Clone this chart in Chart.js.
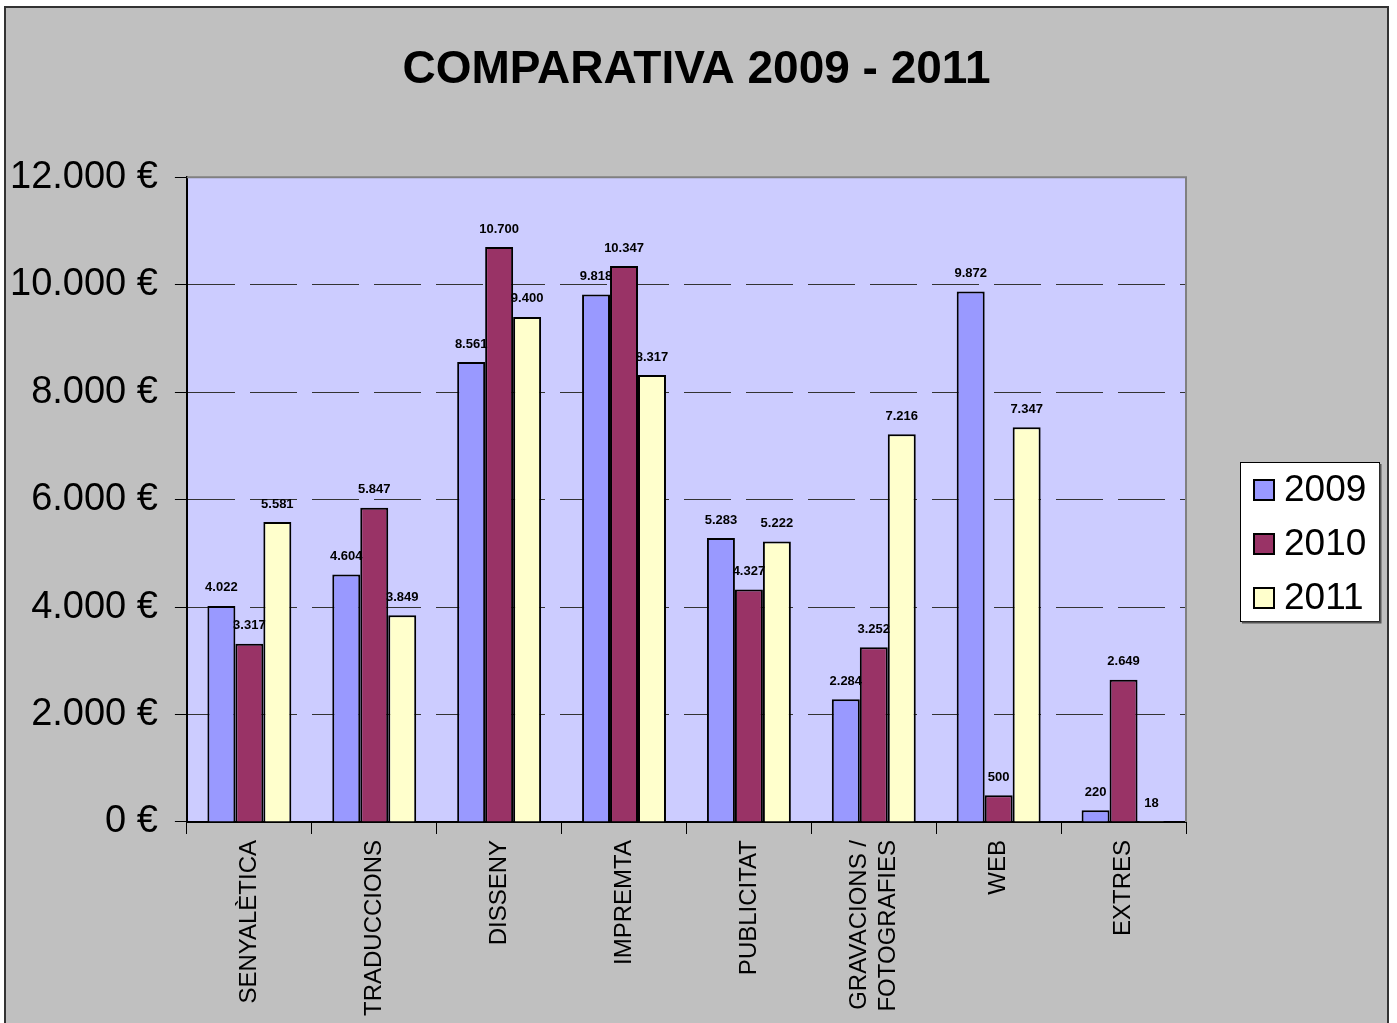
<!DOCTYPE html>
<html><head><meta charset="utf-8">
<script src="https://cdn.jsdelivr.net/npm/chart.js@4.4.1/dist/chart.umd.min.js"></script>
<style>html,body{margin:0;padding:0;background:#fff;overflow:hidden}canvas{display:block}</style>
</head><body>
<canvas id="c" width="1397" height="1023"></canvas>
<script>
const categories = ['SENYALÈTICA', 'TRADUCCIONS', 'DISSENY', 'IMPREMTA', 'PUBLICITAT', ['GRAVACIONS /', 'FOTOGRAFIES'], 'WEB', 'EXTRES'];
const seriesNames = ['2009', '2010', '2011'];
const values2009 = [4022, 4604, 8561, 9818, 5283, 2284, 9872, 220];
const values2010 = [3317, 5847, 10700, 10347, 4327, 3252, 500, 2649];
const values2011 = [5581, 3849, 9400, 8317, 5222, 7216, 7347, 18];
const yMin = 0, yMax = 12000, yStep = 2000;
const titleText = 'COMPARATIVA 2009 - 2011';

const colors = ['#9999ff', '#993366', '#ffffcc'];
const FONT = "'Liberation Sans', Arial, Helvetica, sans-serif";
Chart.defaults.font.family = FONT;
Chart.defaults.color = '#000';

function fmt(v) { return String(v).replace(/\B(?=(\d{3})+(?!\d))/g, '.'); }

const bgPlugin = {
  id: 'bg',
  afterLayout(chart) {
    // centre the title on the whole picture rather than on the padded area
    const t = chart.titleBlock;
    if (t) {
      const shift = chart.width / 2 - 2 - (t.left + t.right) / 2;
      t.left += shift; t.right += shift;
    }
  },
  beforeDraw(chart) {
    const ctx = chart.ctx, a = chart.chartArea;
    ctx.save();
    ctx.fillStyle = '#ffffff';
    ctx.fillRect(0, 0, chart.width, chart.height);
    ctx.fillStyle = '#c0c0c0';
    ctx.fillRect(5, 7, 1383, chart.height - 7);
    ctx.strokeStyle = '#333';
    ctx.lineWidth = 2;
    ctx.beginPath();
    ctx.moveTo(5, chart.height); ctx.lineTo(5, 7); ctx.lineTo(1388, 7); ctx.lineTo(1388, chart.height);
    ctx.stroke();
    ctx.fillStyle = '#ccccff';
    ctx.fillRect(a.left, a.top, a.right - a.left, a.bottom - a.top);
    ctx.restore();
    // centre multi-line category labels on their tick
    const xs = chart.scales.x;
    const items = xs.getLabelItems ? xs.getLabelItems() : [];
    items.forEach(it => {
      if (Array.isArray(it.label) && it.label.length > 1 && !it._fixed) {
        const lh = it.font.lineHeight;
        it.textOffset = it.textOffset - (it.label.length - 1) * lh / 2;
        it._fixed = true;
      }
    });
  },
  beforeDatasetsDraw(chart) {
    const ctx = chart.ctx, a = chart.chartArea;
    ctx.save();
    ctx.strokeStyle = '#808080';
    ctx.lineWidth = 2;
    ctx.beginPath();
    ctx.moveTo(a.left, a.top); ctx.lineTo(a.right, a.top); ctx.lineTo(a.right, a.bottom);
    ctx.stroke();
    ctx.restore();
  }
};

const labelPlugin = {
  id: 'valueLabels',
  afterDatasetsDraw(chart) {
    const ctx = chart.ctx;
    ctx.save();
    ctx.font = 'bold 13px ' + FONT;
    ctx.fillStyle = '#000';
    ctx.textAlign = 'center';
    ctx.textBaseline = 'middle';
    chart.data.datasets.forEach((ds, di) => {
      const meta = chart.getDatasetMeta(di);
      meta.data.forEach((el, i) => {
        ctx.fillText(fmt(ds.data[i]), el.x, el.y - 18);
      });
    });
    ctx.restore();
  }
};

const legendPlugin = {
  id: 'boxLegend',
  afterDraw(chart) {
    const ctx = chart.ctx;
    const x = 1240, y = 462, w = 139, h = 159;
    ctx.save();
    ctx.fillStyle = '#fff';
    ctx.fillRect(x, y, w, h);
    ctx.strokeStyle = '#000';
    ctx.lineWidth = 1;
    ctx.strokeRect(x + 0.5, y + 0.5, w, h);
    ctx.strokeStyle = '#555';
    ctx.lineWidth = 2;
    ctx.beginPath();
    ctx.moveTo(x + w + 1.5, y + 2); ctx.lineTo(x + w + 1.5, y + h + 1.5); ctx.lineTo(x + 2, y + h + 1.5);
    ctx.stroke();
    ctx.font = '37px ' + FONT;
    ctx.textBaseline = 'middle';
    ctx.textAlign = 'left';
    chart.data.datasets.forEach((ds, i) => {
      const cy = 490 + i * 54;
      ctx.fillStyle = ds.backgroundColor;
      ctx.fillRect(1254, cy - 10, 20, 20);
      ctx.strokeStyle = '#000';
      ctx.lineWidth = 2;
      ctx.strokeRect(1254, cy - 10, 20, 20);
      ctx.fillStyle = '#000';
      ctx.fillText(ds.label, 1284, cy + 1);
    });
    ctx.restore();
  }
};

const seriesValues = [values2009, values2010, values2011];
new Chart(document.getElementById('c'), {
  type: 'bar',
  data: {
    labels: categories,
    datasets: seriesNames.map((n, i) => ({
      label: n,
      data: seriesValues[i],
      backgroundColor: colors[i],
      borderColor: '#000',
      borderWidth: 2,
      categoryPercentage: 0.672,
      barPercentage: 1.0
    }))
  },
  options: {
    responsive: false,
    devicePixelRatio: 1,
    animation: false,
    layout: { padding: { left: -7, right: 211, top: 0, bottom: 1 } },
    plugins: {
      legend: { display: false },
      tooltip: { enabled: false },
      title: {
        display: true,
        text: titleText,
        color: '#000',
        font: { size: 46, weight: 'bold', family: FONT, lineHeight: 1.2 },
        padding: { top: 43, bottom: 79 }
      }
    },
    scales: {
      x: {
        grid: { display: true, drawOnChartArea: false, drawTicks: true, tickLength: 12, tickColor: '#000', tickWidth: 1, offset: true },
        border: { display: true, color: '#000', width: 2 },
        ticks: { minRotation: 90, maxRotation: 90, autoSkip: false, padding: 6, color: '#000', font: { size: 24, family: FONT, lineHeight: 1.2 } }
      },
      y: {
        min: yMin, max: yMax,
        grid: { color: '#333', lineWidth: 1, drawTicks: true, tickLength: 12, tickColor: '#000', tickWidth: 1, tickBorderDash: [] },
        border: { display: true, color: '#000', width: 2, dash: [47, 15] },
        ticks: { stepSize: yStep, padding: 17, color: '#000', font: { size: 38, family: FONT }, callback: v => fmt(v) + ' €' }
      }
    }
  },
  plugins: [bgPlugin, labelPlugin, legendPlugin]
});
</script>
</body></html>
